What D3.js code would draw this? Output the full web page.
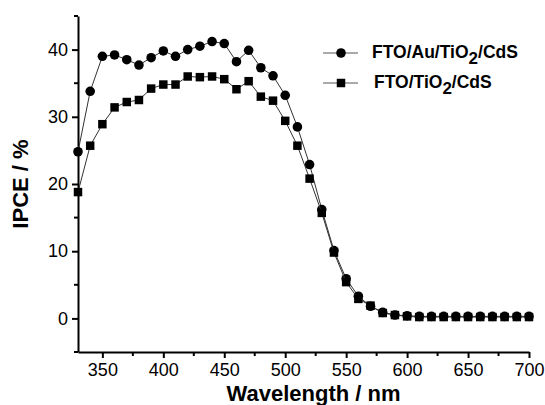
<!DOCTYPE html>
<html>
<head>
<meta charset="utf-8">
<script src="https://cdn.jsdelivr.net/npm/d3@7"></script>
<style>
  body { margin: 0; background: #fff; }
  text { font-family: "Liberation Sans", Arial, sans-serif; }
</style>
</head>
<body>
<svg width="545" height="405" id="mainsvg"></svg>
<script>
// wavelengths (nm)
const wavelength = [330, 340, 350, 360, 370, 380, 390, 400, 410, 420, 430, 440, 450, 460, 470, 480, 490, 500, 510, 520,
  530, 540, 550, 560, 570, 580, 590, 600, 610, 620, 630, 640, 650, 660, 670, 680, 690, 700]
// IPCE (%) FTO/Au/TiO2/CdS
const ipceAu = [24.8, 33.8, 39.0, 39.2, 38.5, 37.7, 38.8, 39.8, 39.0, 40.0, 40.5, 41.2, 40.9, 38.2, 39.9, 37.3, 36.1, 33.2, 28.5, 22.9,
  16.2, 10.1, 5.9, 3.3, 1.8, 0.9, 0.5, 0.4, 0.3, 0.3, 0.3, 0.3, 0.3, 0.3, 0.3, 0.3, 0.3, 0.3]
// IPCE (%) FTO/TiO2/CdS
const ipceBare = [18.8, 25.7, 28.9, 31.4, 32.2, 32.5, 34.2, 34.8, 34.8, 36.0, 35.9, 36.0, 35.6, 34.1, 35.3, 33.0, 32.4, 29.4, 25.7, 20.8,
  15.7, 9.8, 5.4, 2.9, 1.9, 0.8, 0.5, 0.3, 0.2, 0.2, 0.2, 0.2, 0.2, 0.2, 0.2, 0.2, 0.2, 0.2]
const xTicks = [350, 400, 450, 500, 550, 600, 650, 700]
const xMinor = [375, 425, 475, 525, 575, 625, 675]
const yTicks = [0, 10, 20, 30, 40]
const yMinor = [-5, 5, 15, 25, 35, 45]

const svg = d3.select('#mainsvg')
const margin = {top: 16, right: 16, bottom: 53, left: 78}
const width = +svg.attr('width')
const height = +svg.attr('height')

const x = d3.scaleLinear().domain([330, 700]).range([margin.left, width - margin.right])
const y = d3.scaleLinear().domain([-5, 45]).range([height - margin.bottom, margin.top])

// axes
const xAxis = svg.append('g')
  .attr('transform', `translate(0,${y(-5)})`)
  .call(d3.axisBottom(x).tickValues(xTicks).tickSize(6).tickPadding(5).tickSizeOuter(0))
xAxis.append('g').selectAll('line')
  .data(xMinor)
  .join('line')
  .attr('x1', d => x(d)).attr('x2', d => x(d))
  .attr('y1', 0).attr('y2', 4)
  .attr('stroke', '#000').attr('stroke-width', 2)

const yAxis = svg.append('g')
  .attr('transform', `translate(${x(330)},0)`)
  .call(d3.axisLeft(y).tickValues(yTicks).tickSize(6).tickPadding(4).tickSizeOuter(0))
yAxis.append('g').selectAll('line')
  .data(yMinor)
  .join('line')
  .attr('x1', 0).attr('x2', -4)
  .attr('y1', d => y(d)).attr('y2', d => y(d))
  .attr('stroke', '#000').attr('stroke-width', 2)

svg.selectAll('.domain').attr('stroke', '#000').attr('stroke-width', 2)
svg.selectAll('.tick line').attr('stroke', '#000').attr('stroke-width', 2)
svg.selectAll('.tick text').attr('font-size', 18).attr('fill', '#000')
  .style('font-family', '"Liberation Sans", Arial, sans-serif')

// axis titles
svg.append('text')
  .attr('x', (x(330) + x(700)) / 2 + 10)
  .attr('y', 401)
  .attr('text-anchor', 'middle')
  .attr('font-size', 22).attr('font-weight', 'bold')
  .text('Wavelength / nm')

svg.append('text')
  .attr('transform', `translate(28,${(y(-5) + y(45)) / 2}) rotate(-90)`)
  .attr('text-anchor', 'middle')
  .attr('font-size', 22).attr('font-weight', 'bold')
  .text('IPCE / %')

// series
const series = [
  {name: 'FTO/Au/TiO', tail: '/CdS', values: ipceAu, shape: d3.symbolCircle, size: 72},
  {name: 'FTO/TiO', tail: '/CdS', values: ipceBare, shape: d3.symbolSquare, size: 72}
]

const line = d3.line().x(d => x(d[0])).y(d => y(d[1]))

series.forEach(s => {
  const pts = wavelength.map((w, i) => [w, s.values[i]])
  svg.append('path')
    .datum(pts)
    .attr('fill', 'none')
    .attr('stroke', '#333')
    .attr('stroke-width', 1)
    .attr('d', line)
  svg.append('g').selectAll('path')
    .data(pts)
    .join('path')
    .attr('transform', d => `translate(${x(d[0])},${y(d[1])})`)
    .attr('d', d3.symbol().type(s.shape).size(s.size))
    .attr('fill', '#000')
})

// legend
const legend = svg.append('g')
series.forEach((s, i) => {
  const ly = 53 + i * 30
  legend.append('line')
    .attr('x1', 323).attr('x2', 358)
    .attr('y1', ly).attr('y2', ly)
    .attr('stroke', '#555').attr('stroke-width', 1)
  legend.append('path')
    .attr('transform', `translate(341,${ly})`)
    .attr('d', d3.symbol().type(s.shape).size(s.size))
    .attr('fill', '#000')
  const t = legend.append('text')
    .attr('x', 372 + i * 2).attr('y', ly + 5)
    .attr('font-size', 17.5).attr('font-weight', 'bold')
  t.append('tspan').text(s.name)
  t.append('tspan').attr('dy', 6).attr('font-size', 17).text('2')
  t.append('tspan').attr('dy', -6).text(s.tail)
})
</script>
</body>
</html>
